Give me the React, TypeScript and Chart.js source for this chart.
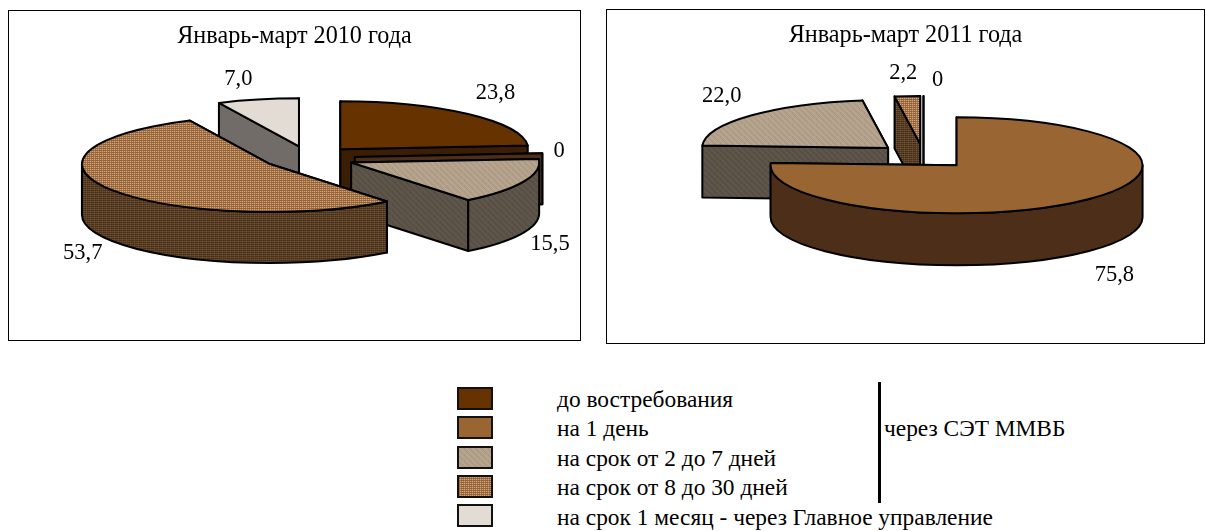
import React, { useEffect, useRef } from "react";
import { Chart, registerables } from "chart.js";

Chart.register(...registerables);

// ---- data ----
const categories = [
  "до востребования",
  "на 1 день",
  "на срок от 2 до 7 дней",
  "на срок от 8 до 30 дней",
  "на срок 1 месяц - через Главное управление",
];
const values2010 = [23.8, 0, 15.5, 53.7, 7.0];
const values2011 = [null, 75.8, 22.0, 2.2, 0];
const title2010 = "Январь-март 2010 года";
const title2011 = "Январь-март 2011 года";
const groupNote = "через СЭТ ММВБ";

// ---- styling ----
const FONT = '"Liberation Serif", "Times New Roman", serif';
type Tile = { map: string[]; pal: Record<string, string> };
const plain = (c: string): Tile => ({ map: ["a"], pal: { a: c } });
const speckle = (a: string, l: string, d: string): Tile => ({
  map: ["alal", "dadd", "alal", "dadd"],
  pal: { a, l, d },
});
const weave = (a: string, l: string, d: string): Tile => ({
  map: ["alaaad", "aalaad", "daalaa", "adaala", "aadaal", "laadaa"],
  pal: { a, l, d },
});
const topTiles: Tile[] = [
  plain("#663300"),
  plain("#996633"),
  weave("#b2a08b", "#bbaa96", "#a9977f"),
  speckle("#a9744a", "#c9a582", "#93602f"),
  plain("#e2dcd5"),
];
const sideTiles: Tile[] = [
  plain("#3b1e03"),
  plain("#4d2f19"),
  weave("#5c5348", "#635a4f", "#554c41"),
  speckle("#5a3f27", "#6b5036", "#4a3119"),
  plain("#716c67"),
];

function tileCanvas(t: Tile): HTMLCanvasElement {
  const c = document.createElement("canvas");
  c.width = t.map[0].length;
  c.height = t.map.length;
  const g = c.getContext("2d")!;
  t.map.forEach((row, y) =>
    [...row].forEach((k, x) => {
      g.fillStyle = t.pal[k];
      g.fillRect(x, y, 1, 1);
    })
  );
  return c;
}
function toPattern(ctx: CanvasRenderingContext2D, t: Tile) {
  return ctx.createPattern(tileCanvas(t), "repeat")!;
}

// Draws the library's arc elements as tilted, extruded, exploded slices.
const pie3d = {
  id: "pie3d",
  afterLayout(chart: any) {
    // the title stays centred on the whole panel, not on the padded pie area
    if (chart.titleBlock) {
      chart.titleBlock.left = 0;
      chart.titleBlock.right = chart.width;
    }
  },
  beforeDatasetDraw(chart: any, args: any, opts: any) {
    const { ctx } = chart;
    const { tilt, depth, sides } = opts;
    const slices = args.meta.data
      .map((arc: any, i: number) => {
        const p = arc.getProps(["x", "y", "startAngle", "endAngle", "outerRadius"], true);
        const mid = (p.startAngle + p.endAngle) / 2;
        const off = arc.options.offset;
        return {
          i,
          ...p,
          fill: arc.options.backgroundColor,
          stroke: arc.options.borderColor,
          lw: arc.options.borderWidth,
          cx: p.x + off * Math.cos(mid),
          cy: p.y + off * Math.sin(mid) * tilt,
        };
      })
      .filter((s: any) => chart.data.datasets[0].data[s.i] !== null)
      .sort((a: any, b: any) => a.cy - b.cy);

    ctx.save();
    ctx.lineJoin = "round";
    for (const s of slices) {
      const R = s.outerRadius;
      const ry = R * tilt;
      ctx.lineWidth = s.lw;
      ctx.strokeStyle = s.stroke;
      const rim = (a: number) => [s.cx + R * Math.cos(a), s.cy + ry * Math.sin(a)];
      const paint = (fill: any) => {
        ctx.fillStyle = fill;
        ctx.fill();
        ctx.stroke();
      };
      // radial walls, back one first
      const walls = [s.startAngle, s.endAngle].sort(
        (a: number, b: number) => Math.sin(a) - Math.sin(b)
      );
      for (const a of walls) {
        const [qx, qy] = rim(a);
        ctx.beginPath();
        ctx.moveTo(s.cx, s.cy);
        ctx.lineTo(qx, qy);
        ctx.lineTo(qx, qy + depth);
        ctx.lineTo(s.cx, s.cy + depth);
        ctx.closePath();
        paint(sides[s.i]);
      }
      // curved outer wall, the part that faces the viewer
      const a0 = Math.max(s.startAngle, 0);
      const a1 = Math.min(s.endAngle, Math.PI);
      if (a1 > a0) {
        ctx.beginPath();
        ctx.ellipse(s.cx, s.cy, R, ry, 0, a0, a1);
        ctx.ellipse(s.cx, s.cy + depth, R, ry, 0, a1, a0, true);
        ctx.closePath();
        paint(sides[s.i]);
      }
      // top face
      if (s.endAngle > s.startAngle) {
        ctx.beginPath();
        ctx.moveTo(s.cx, s.cy);
        ctx.ellipse(s.cx, s.cy, R, ry, 0, s.startAngle, s.endAngle);
        ctx.closePath();
        paint(s.fill);
      }
    }
    ctx.restore();
    return false;
  },
  afterDatasetsDraw(chart: any, _args: any, opts: any) {
    const { ctx } = chart;
    const { tilt, depth, nudges } = opts;
    const meta = chart.getDatasetMeta(0);
    const data = chart.data.datasets[0].data;
    ctx.save();
    ctx.font = `22.5px ${FONT}`;
    ctx.fillStyle = "#000";
    ctx.textAlign = "center";
    ctx.textBaseline = "middle";
    meta.data.forEach((arc: any, i: number) => {
      const v = data[i];
      if (v === null) return;
      const mid = (arc.startAngle + arc.endAngle) / 2;
      const off = arc.options.offset + arc.outerRadius;
      const c = Math.cos(mid);
      const s = Math.sin(mid);
      const x = arc.x + off * c + 30 * c + nudges[i][0];
      const y = arc.y + off * s * tilt + 25 * s + (s > 0 ? depth : 0) + nudges[i][1];
      ctx.fillText(v === 0 ? "0" : v.toFixed(1).replace(".", ","), x, y);
    });
    ctx.restore();
  },
};

type PieProps = {
  title: string;
  values: (number | null)[];
  box: { left: number; top: number; width: number; height: number };
  pad: { left: number; right: number; bottom: number };
  nudges: number[][];
  depth: number;
  radius: number;
  explode: number;
};

function Pie({ title, values, box, pad, nudges, depth, radius, explode }: PieProps) {
  const ref = useRef<HTMLCanvasElement>(null);
  useEffect(() => {
    const ctx = ref.current!.getContext("2d")!;
    const chart = new Chart(ctx, {
      type: "pie",
      data: {
        labels: categories,
        datasets: [
          {
            data: values as number[],
            radius,
            offset: explode,
            backgroundColor: topTiles.map((t) => toPattern(ctx, t)),
            borderColor: "#000",
            borderWidth: 2,
          } as any,
        ],
      },
      options: {
        responsive: false,
        animation: false,
        events: [],
        layout: { padding: { left: pad.left, right: pad.right, bottom: pad.bottom, top: 0 } },
        plugins: {
          legend: { display: false },
          tooltip: { enabled: false },
          title: {
            display: true,
            text: title,
            color: "#000",
            font: { family: FONT, size: 24.2, weight: "normal", lineHeight: 1.2 },
            padding: { top: 11.4, bottom: 0 },
          },
          pie3d: {
            tilt: 48 / radius,
            depth,
            nudges,
            sides: sideTiles.map((t) => toPattern(ctx, t)),
          },
        } as any,
      },
      plugins: [pie3d as any],
    });
    return () => chart.destroy();
  }, []);
  return (
    <div
      style={{
        position: "absolute",
        left: box.left - 1,
        top: box.top - 1,
        width: box.width,
        height: box.height,
        border: "1px solid #000",
        background: "#fff",
      }}
    >
      <canvas ref={ref} width={box.width} height={box.height} />
    </div>
  );
}

function swatchUrl(t: Tile) {
  return tileCanvas(t).toDataURL();
}

export default function App() {
  return (
    <div
      style={{
        position: "absolute",
        left: 0,
        top: 0,
        width: 1206,
        height: 531,
        overflow: "hidden",
        background: "#fff",
        fontFamily: FONT,
        fontSize: 23.4,
        color: "#000",
      }}
    >
      <Pie
        title={title2010}
        values={values2010}
        box={{ left: 9, top: 11, width: 571, height: 329 }}
        pad={{ left: 29, right: 0, bottom: 75.8 }}
        nudges={[[7, -3], [-13, 0], [-1, 1], [-2, 0], [-13, 4]]}
        depth={51}
        radius={188}
        explode={46}
      />
      <Pie
        title={title2011}
        values={values2011}
        box={{ left: 607, top: 10, width: 597, height: 333 }}
        pad={{ left: 36, right: 0, bottom: 80.8 }}
        nudges={[[0, 0], [9, 5], [-7, -3], [-2, 2], [14, 9]]}
        depth={52}
        radius={186}
        explode={48}
      />
      {categories.map((c, i) => (
        <React.Fragment key={c}>
          <div
            style={{
              position: "absolute",
              left: 457,
              top: 387 + i * 29.3,
              width: 36,
              height: 23,
              boxSizing: "border-box",
              border: "2px solid #111",
              backgroundImage: `url(${swatchUrl(topTiles[i])})`,
            }}
          />
          <div
            style={{
              position: "absolute",
              left: 557,
              top: 387 + i * 29.4,
              lineHeight: "24px",
              whiteSpace: "nowrap",
            }}
          >
            {c}
          </div>
        </React.Fragment>
      ))}
      <div style={{ position: "absolute", left: 878, top: 382, width: 3, height: 121, background: "#000" }} />
      <div style={{ position: "absolute", left: 884, top: 416, lineHeight: "24px", whiteSpace: "nowrap" }}>
        {groupNote}
      </div>
    </div>
  );
}
